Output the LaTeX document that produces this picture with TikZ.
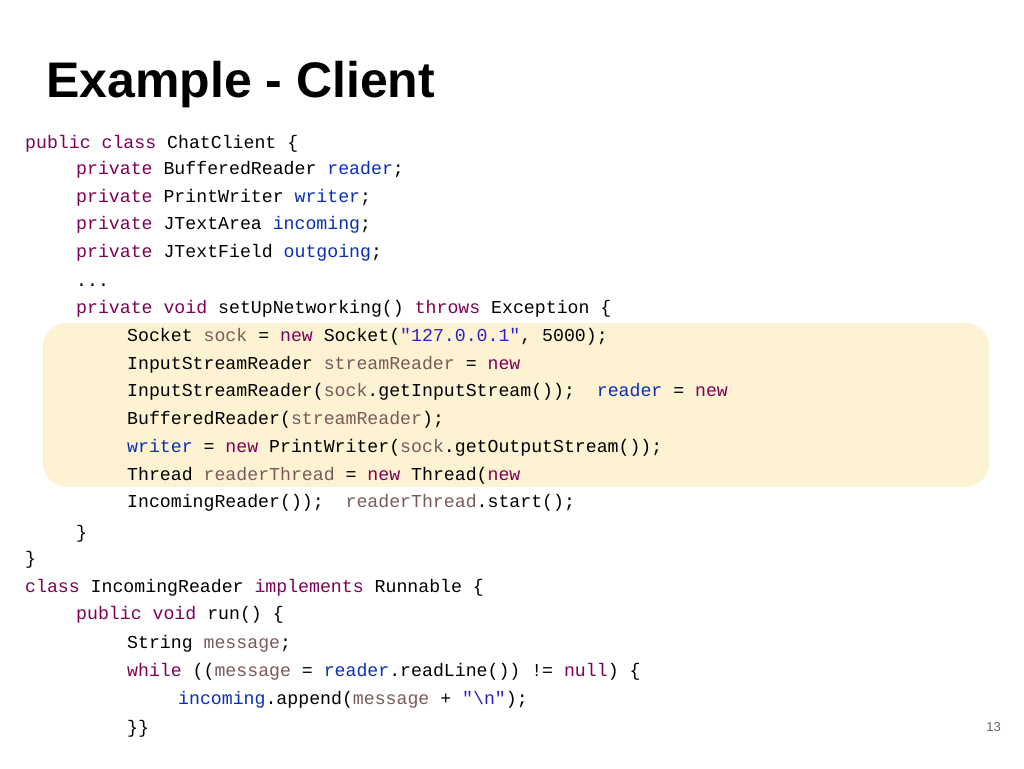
\documentclass[tikz,border=0pt]{standalone}
\usepackage{fontspec}
\setmainfont{Liberation Sans}
\setmonofont{Liberation Mono}
\definecolor{kwc}{HTML}{7F0055}
\definecolor{fdc}{HTML}{0A30B8}
\definecolor{lvc}{HTML}{7A5A5A}
\definecolor{stc}{HTML}{2A20D0}
\definecolor{hl}{HTML}{FDF2D2}
\newcommand{\kw}[1]{\textcolor{kwc}{#1}}
\newcommand{\fd}[1]{\textcolor{fdc}{#1}}
\newcommand{\lv}[1]{\textcolor{lvc}{#1}}
\newcommand{\st}[1]{\textcolor{stc}{#1}}
\begin{document}
\begin{tikzpicture}[x=1pt,y=1pt,
  code/.style={anchor=base west,inner sep=0,font=\ttfamily\fontsize{18.2}{20}\selectfont}]
\useasboundingbox[fill=white] (0,0) rectangle (1024,768);
\fill[hl,rounded corners=24pt] (43,768-323) rectangle (989,768-487);
\node[anchor=base west,inner sep=0,font=\bfseries\fontsize{50}{55}\selectfont] (title) at (46,768-98) {Example - Client};
\node[anchor=base east,inner sep=0,text=gray!80!black,font=\fontsize{13}{15}\selectfont] (pg) at (1001,768-731) {13};
\node[code] (l1) at (25,768-149) {\kw{public class} ChatClient \{};
\node[code] (l2) at (76,768-175) {\kw{private} BufferedReader \fd{reader};};
\node[code] (l3) at (76,768-203) {\kw{private} PrintWriter \fd{writer};};
\node[code] (l4) at (76,768-230) {\kw{private} JTextArea \fd{incoming};};
\node[code] (l5) at (76,768-258) {\kw{private} JTextField \fd{outgoing};};
\node[code] (l6) at (76,768-287) {...};
\node[code] (l7) at (76,768-314) {\kw{private void} setUpNetworking() \kw{throws} Exception \{};
\node[code] (l8) at (127,768-342) {Socket \lv{sock} = \kw{new} Socket(\st{"127.0.0.1"}, 5000);};
\node[code] (l9) at (127,768-370) {InputStreamReader \lv{streamReader} = \kw{new}};
\node[code] (l10) at (127,768-397) {InputStreamReader(\lv{sock}.getInputStream());\ \ \fd{reader} = \kw{new}};
\node[code] (l11) at (127,768-425) {BufferedReader(\lv{streamReader});};
\node[code] (l12) at (127,768-453) {\fd{writer} = \kw{new} PrintWriter(\lv{sock}.getOutputStream());};
\node[code] (l13) at (127,768-481) {Thread \lv{readerThread} = \kw{new} Thread(\kw{new}};
\node[code] (l14) at (127,768-508) {IncomingReader());\ \ \lv{readerThread}.start();};
\node[code] (l15) at (76,768-539) {\}};
\node[code] (l16) at (25,768-565) {\}};
\node[code] (l17) at (25,768-593) {\kw{class} IncomingReader \kw{implements} Runnable \{};
\node[code] (l18) at (76,768-620) {\kw{public void} run() \{};
\node[code] (l19) at (127,768-648) {String \lv{message};};
\node[code] (l20) at (127,768-676) {\kw{while} ((\lv{message} = \fd{reader}.readLine()) != \kw{null}) \{};
\node[code] (l21) at (178,768-704) {\fd{incoming}.append(\lv{message} + \st{"\textbackslash n"});};
\node[code] (l22) at (127,768-733) {\}\}};
\end{tikzpicture}
\end{document}
